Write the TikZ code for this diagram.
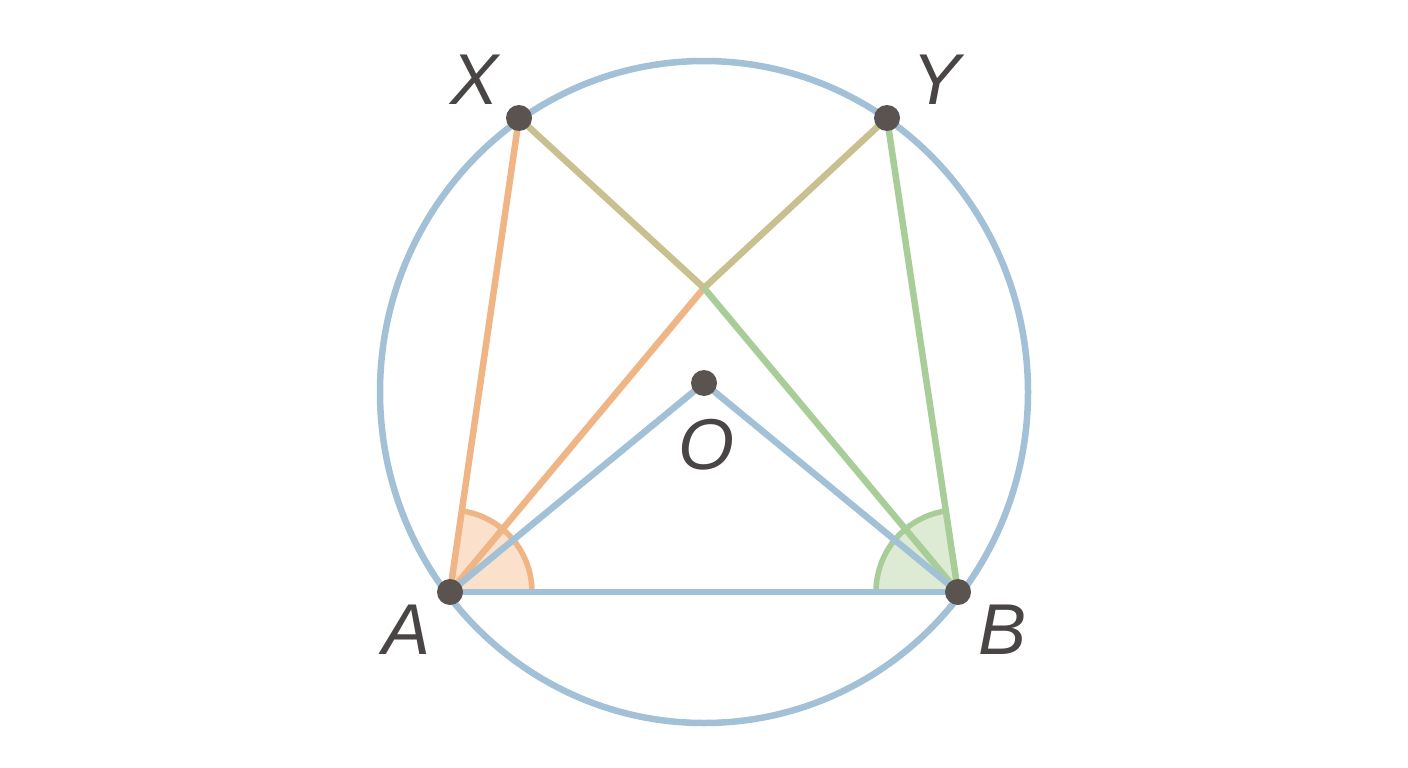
\documentclass[tikz,border=0pt]{standalone}
\usepackage{fontspec}
\setmainfont{Liberation Sans}
\definecolor{cblue}{HTML}{A3C1D6}
\definecolor{corange}{HTML}{F0B584}
\definecolor{cgreen}{HTML}{A9CD98}
\definecolor{ckhaki}{HTML}{C9C08F}
\definecolor{cdot}{HTML}{5A534F}
\definecolor{ctext}{HTML}{4A4545}
\definecolor{forange}{HTML}{FBE1CC}
\definecolor{fgreen}{HTML}{DDEBD5}
\tikzset{
  seg/.style={line width=6.5pt},
  pt/.style={circle,fill=cdot,minimum size=26pt,inner sep=0pt},
  lab/.style={text=ctext,font=\fontsize{72}{72}\selectfont\itshape,inner sep=0pt},
}
\begin{document}
\begin{tikzpicture}[x=1pt,y=-1pt]
\useasboundingbox (0,0) rectangle (1408,768);
\fill[white] (0,0) rectangle (1408,768);
\coordinate (C) at (704,392);
\coordinate (A) at (450,592);
\coordinate (B) at (958,592);
\coordinate (X) at (519,118);
\coordinate (Y) at (887,118);
\coordinate (O) at (704,383);
\coordinate (I) at (704,288);
% circle
\draw[cblue,seg] (C) ellipse [x radius=324, y radius=331];
% angle wedges
\filldraw[fill=forange,draw=corange,line width=5.5pt] (A) -- ++(82,0) arc[start angle=0,end angle=-81.7,radius=82] -- cycle;
\filldraw[fill=fgreen,draw=cgreen,line width=5.5pt] (B) -- ++(-82,0) arc[start angle=180,end angle=261.5,radius=82] -- cycle;
% lines
\draw[corange,seg] (A) -- (X);
\draw[corange,seg] (A) -- (I);
\draw[ckhaki,seg] (I) -- (Y);
\draw[ckhaki,seg] (X) -- (I);
\draw[cgreen,seg] (I) -- (B);
\draw[cgreen,seg] (B) -- (Y);
\draw[cblue,seg] (A) -- (O) -- (B);
\draw[cblue,seg] (A) -- (B);
% points
\node[pt] (pA) at (A) {};
\node[pt] (pB) at (B) {};
\node[pt] (pX) at (X) {};
\node[pt] (pY) at (Y) {};
\node[pt] (pO) at (O) {};
% labels
\node[lab] (lX) at (475,80) {X};
\node[lab] (lY) at (937,80) {Y};
\node[lab] (lO) at (706,445) {O};
\node[lab] (lA) at (407,630) {A};
\node[lab] (lB) at (1002,630) {B};
\end{tikzpicture}
\end{document}
